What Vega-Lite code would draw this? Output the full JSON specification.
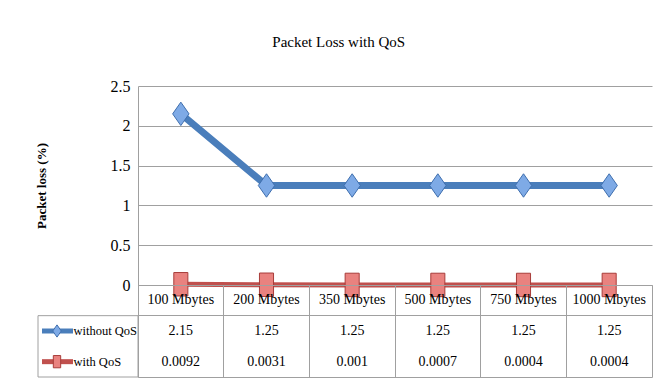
{
  "$schema": "https://vega.github.io/schema/vega-lite/v6.json",
  "padding": {"left": 35, "top": 35, "right": 10, "bottom": 5},
  "title": {"text": "Packet Loss with QoS", "font": "Liberation Serif", "fontSize": 15, "fontWeight": "normal", "color": "#000000", "offset": 28, "anchor": "middle", "dx": -5},
  "datasets": {
    "loss": [
      {"size": "100 Mbytes", "series": "without QoS", "value": 2.15},
      {"size": "200 Mbytes", "series": "without QoS", "value": 1.25},
      {"size": "350 Mbytes", "series": "without QoS", "value": 1.25},
      {"size": "500 Mbytes", "series": "without QoS", "value": 1.25},
      {"size": "750 Mbytes", "series": "without QoS", "value": 1.25},
      {"size": "1000 Mbytes", "series": "without QoS", "value": 1.25},
      {"size": "100 Mbytes", "series": "with QoS", "value": 0.0092},
      {"size": "200 Mbytes", "series": "with QoS", "value": 0.0031},
      {"size": "350 Mbytes", "series": "with QoS", "value": 0.001},
      {"size": "500 Mbytes", "series": "with QoS", "value": 0.0007},
      {"size": "750 Mbytes", "series": "with QoS", "value": 0.0004},
      {"size": "1000 Mbytes", "series": "with QoS", "value": 0.0004}
    ]
  },
  "data": {"name": "loss"},
  "config": {
    "font": "Liberation Serif",
    "view": {"stroke": null},
    "axis": {"labelFont": "Liberation Serif", "titleFont": "Liberation Serif", "labelColor": "#000000", "titleColor": "#000000"},
    "text": {"font": "Liberation Serif", "color": "#000000"}
  },
  "spacing": 199,
  "bounds": "flush",
  "resolve": {"scale": {"x": "independent", "y": "independent"}},
  "vconcat": [
    {
      "spacing": 0,
      "bounds": "flush",
      "resolve": {"scale": {"x": "independent", "y": "independent"}},
      "hconcat": [
        {"width": 100, "height": 199, "data": {"values": []}, "mark": {"type": "point", "opacity": 0}},
        {
          "width": 514,
          "height": 199,
          "encoding": {
            "x": {"field": "size", "type": "nominal", "scale": {"type": "point", "padding": 0.5, "domain": ["100 Mbytes", "200 Mbytes", "350 Mbytes", "500 Mbytes", "750 Mbytes", "1000 Mbytes"]}, "axis": null},
            "y": {"field": "value", "type": "quantitative", "scale": {"domain": [0, 2.5], "nice": false, "zero": true},
              "axis": {"title": "Packet loss (%)", "titleFontSize": 13, "titleFontWeight": "bold", "titlePadding": 62,
                "values": [0, 0.5, 1, 1.5, 2, 2.5], "format": "~g", "labelFontSize": 16, "labelPadding": 8,
                "ticks": false, "domain": true, "domainColor": "#a0a0a0", "grid": true, "gridColor": "#a0a0a0"}}
          },
          "layer": [
            {
              "mark": {"type": "line"},
              "encoding": {
                "color": {"field": "series", "type": "nominal", "scale": {"domain": ["without QoS", "with QoS"], "range": ["#4a7ebb", "#c0504d"]}, "legend": null},
                "strokeWidth": {"field": "series", "type": "nominal", "scale": {"domain": ["without QoS", "with QoS"], "range": [7, 5]}, "legend": null}
              }
            },
            {
              "mark": {"type": "point", "filled": true, "size": 550, "strokeWidth": 1, "opacity": 1},
              "encoding": {
                "shape": {"field": "series", "type": "nominal", "scale": {"domain": ["without QoS", "with QoS"], "range": ["M0,-1L0.7,0L0,1L-0.7,0Z", "M-0.6,-1L0.6,-1L0.6,1L-0.6,1Z"]}, "legend": null},
                "fill": {"field": "series", "type": "nominal", "scale": {"domain": ["without QoS", "with QoS"], "range": ["#7eaae6", "#e9827f"]}, "legend": null},
                "stroke": {"field": "series", "type": "nominal", "scale": {"domain": ["without QoS", "with QoS"], "range": ["#3f6fae", "#a83d3a"]}, "legend": null}
              }
            }
          ]
        }
      ]
    },
    {
      "spacing": 0,
      "bounds": "flush",
      "resolve": {"scale": {"x": "independent", "y": "independent"}},
      "hconcat": [
        {
          "width": 100,
          "height": 92,
          "resolve": {"scale": {"y": "independent"}},
          "layer": [
            {
              "data": {"values": [{}]},
              "mark": {"type": "rect", "filled": false, "stroke": "#a0a0a0", "strokeWidth": 1},
              "encoding": {
                "x": {"datum": 0, "type": "quantitative", "scale": {"domain": [0, 1]}, "axis": null},
                "x2": {"datum": 1},
                "y": {"datum": 0, "type": "quantitative", "scale": {"domain": [0, 3]}, "axis": null},
                "y2": {"datum": 2}
              }
            },
            {
              "transform": [{"filter": "datum.size === '100 Mbytes'"}],
              "encoding": {
                "y": {"field": "series", "type": "nominal", "scale": {"type": "band", "domain": ["cat", "without QoS", "with QoS"], "paddingInner": 0, "paddingOuter": 0}, "axis": null}
              },
              "layer": [
                {
                  "mark": {"type": "rule", "strokeWidth": 5},
                  "encoding": {
                    "x": {"datum": 0.04, "type": "quantitative", "scale": {"domain": [0, 1]}, "axis": null},
                    "x2": {"datum": 0.35},
                    "color": {"field": "series", "type": "nominal", "legend": null}
                  }
                },
                {
                  "mark": {"type": "point", "filled": true, "size": 150, "strokeWidth": 1, "opacity": 1},
                  "encoding": {
                    "x": {"datum": 0.19, "type": "quantitative", "scale": {"domain": [0, 1]}, "axis": null},
                    "shape": {"field": "series", "type": "nominal", "legend": null},
                    "fill": {"field": "series", "type": "nominal", "legend": null},
                    "stroke": {"field": "series", "type": "nominal", "legend": null}
                  }
                },
                {
                  "mark": {"type": "text", "align": "left", "fontSize": 12.5},
                  "encoding": {
                    "x": {"datum": 0.355, "type": "quantitative", "scale": {"domain": [0, 1]}, "axis": null},
                    "text": {"field": "series"}
                  }
                }
              ]
            }
          ]
        },
        {
          "width": 514,
          "height": 92,
          "view": {"stroke": "#a0a0a0"},
          "encoding": {
            "x": {"field": "size", "type": "nominal", "scale": {"type": "band", "domain": ["100 Mbytes", "200 Mbytes", "350 Mbytes", "500 Mbytes", "750 Mbytes", "1000 Mbytes"], "paddingInner": 0, "paddingOuter": 0},
              "axis": {"title": null, "labels": false, "ticks": false, "domain": false, "grid": true, "bandPosition": 0, "gridColor": "#a0a0a0"}}
          },
          "layer": [
            {
              "transform": [{"filter": "datum.series === 'without QoS'"}],
              "mark": {"type": "text", "fontSize": 14},
              "encoding": {
                "y": {"datum": "cat", "type": "nominal", "scale": {"type": "band", "domain": ["cat", "without QoS", "with QoS"], "paddingInner": 0, "paddingOuter": 0},
                  "axis": {"title": null, "values": ["without QoS"], "labels": false, "ticks": false, "domain": false, "grid": true, "bandPosition": 0, "gridColor": "#a0a0a0"}},
                "text": {"field": "size"}
              }
            },
            {
              "mark": {"type": "text", "fontSize": 14},
              "encoding": {
                "y": {"field": "series", "type": "nominal", "scale": {"type": "band", "domain": ["cat", "without QoS", "with QoS"], "paddingInner": 0, "paddingOuter": 0}},
                "text": {"field": "value", "type": "nominal"}
              }
            }
          ]
        }
      ]
    }
  ]
}
